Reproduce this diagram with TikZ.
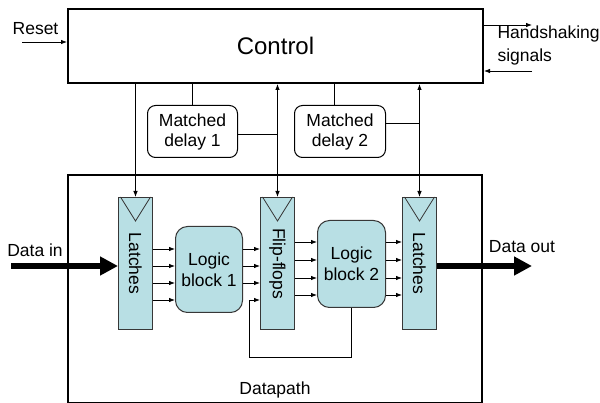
\documentclass[tikz,border=0pt]{standalone}
\usepackage{fontspec}
\setmainfont{Liberation Sans}
\usetikzlibrary{arrows.meta}
\definecolor{cellfill}{RGB}{184,223,228}
\definecolor{edgegray}{RGB}{55,55,55}
\begin{document}
\begin{tikzpicture}[x=1pt,y=-1pt,
  font=\fontsize{17.5}{20}\selectfont,
  thickbox/.style={draw, line width=2pt, inner sep=0pt, anchor=north west},
  cell/.style={draw=edgegray, fill=cellfill, line width=1pt, inner sep=0pt, anchor=north west},
  logic/.style={cell, rounded corners=12pt, align=center, font=\fontsize{17.5}{21}\selectfont},
  delaybox/.style={draw, line width=1pt, rounded corners=8pt, inner sep=0pt, anchor=north west, align=center},
  sig/.style={line width=0.8pt, -{Latex[length=6pt,width=4.5pt]}},
  bisig/.style={line width=0.8pt, {Latex[length=6pt,width=4.5pt]}-{Latex[length=6pt,width=4.5pt]}},
  wire/.style={line width=0.8pt},
  bus/.style={line width=6pt, -{Triangle[length=18pt,width=18pt]}}]
\useasboundingbox (0,0) rectangle (600,403);

% control unit and datapath frames
\node[thickbox, minimum width=415pt, minimum height=74pt, font=\fontsize{24}{28}\selectfont] (ctrl) at (67,8) {Control};
\node[thickbox, minimum width=414pt, minimum height=228pt] (dp) at (67,174) {};
\node[anchor=base] (dplabel) at (275,395) {Datapath};

% matched delays
\node[delaybox, minimum width=90pt, minimum height=52pt] (d1) at (147,105) {Matched\\delay 1};
\node[delaybox, minimum width=91pt, minimum height=52pt] (d2) at (294,105) {Matched\\delay 2};

% storage elements
\node[cell, minimum width=34pt, minimum height=132pt] (lat1) at (118,197) {};
\node[cell, minimum width=34pt, minimum height=132pt] (ff) at (260,197) {};
\node[cell, minimum width=34pt, minimum height=132pt] (lat2) at (402,197) {};
\node[rotate=-90] (lat1t) at (lat1.center) {Latches};
\node[rotate=-90] (fft) at (ff.center) {Flip-flops};
\node[rotate=-90] (lat2t) at (lat2.center) {Latches};
\foreach \n in {lat1,ff,lat2}
  \draw[edgegray, line width=0.8pt] ([xshift=2.5pt]\n.north west) -- ([yshift=-24pt]\n.north) -- ([xshift=-2.5pt]\n.north east);

% combinational logic
\node[logic, minimum width=67pt, minimum height=86pt] (lb1) at (175,226) {Logic\\block 1};
\node[logic, minimum width=68pt, minimum height=87pt] (lb2) at (317,220) {Logic\\block 2};

% control to datapath
\draw[sig] (ctrl.south -| lat1.north) -- (lat1.north);
\draw[bisig] (ctrl.south -| ff.north) -- (ff.north);
\draw[bisig] (ctrl.south -| lat2.north) -- (lat2.north);
\draw[wire] (ctrl.south -| d1.north) -- (d1.north);
\draw[wire] (ctrl.south -| 334,0) -- (d2.north -| 334,0);
\draw[wire] (d1.east |- 0,134) -- (ff.north |- 0,134);
\draw[wire] (d2.east |- 0,123) -- (lat2.north |- 0,123);

% external control signals
\coordinate (rs) at (22,42);
\draw[sig] (rs) -- (ctrl.west |- rs);
\node[anchor=base] (rst) at (35.5,35) {Reset};
\coordinate (hso) at (532,25);
\coordinate (hsi) at (532,71);
\draw[sig] (ctrl.east |- hso) -- (hso);
\draw[sig] (hsi) -- (ctrl.east |- hsi);
\node[anchor=base west, align=left, font=\fontsize{17.5}{23}\selectfont] (hst) at (494,62) {Handshaking\\signals};

% datapath wiring
\foreach \y in {249,266,283,300}
  \draw[sig] (lat1.east |- 0,\y) -- (lb1.west |- 0,\y);
\foreach \y in {249,266,283}
  \draw[sig] (lb1.east |- 0,\y) -- (ff.west |- 0,\y);
\foreach \y in {242,260,278,295} {
  \draw[sig] (ff.east |- 0,\y) -- (lb2.west |- 0,\y);
  \draw[sig] (lb2.east |- 0,\y) -- (lat2.west |- 0,\y);
}
\coordinate (fb) at (249,357);
\draw[sig] (lb2.south) |- (fb) |- (ff.west |- 0,300);

% data buses
\coordinate (din) at (11,266);
\coordinate (dout) at (532,266);
\draw[bus] (din) -- (lat1.west |- din);
\draw[bus] (lat2.east |- dout) -- (dout);
\node[anchor=base] (dint) at (35,257) {Data in};
\node[anchor=base] (doutt) at (522,253) {Data out};
\end{tikzpicture}
\end{document}
